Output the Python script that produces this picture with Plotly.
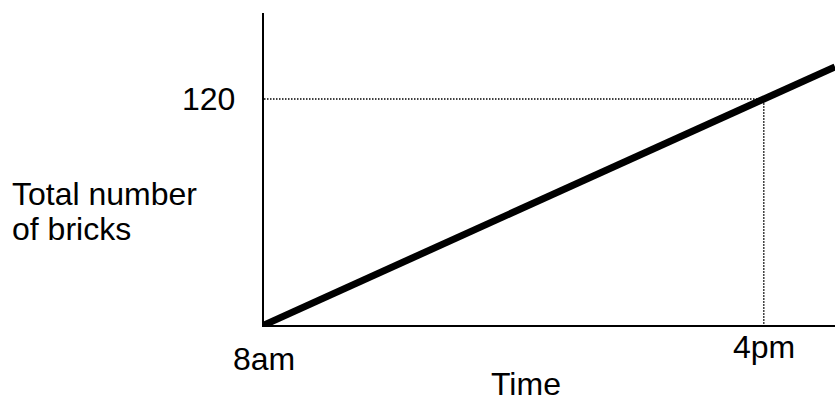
import plotly.graph_objects as go

# Data
hours = [8, 16, 17.14]          # 8am, 4pm, right edge of chart
bricks = [0, 120, 137.1]        # total number of bricks (constant rate 15/hour)
ref_hour = 16
ref_bricks = 120
x_tick_labels = {8: "8am", 16: "4pm"}
y_tick_labels = {120: "120"}
y_title_lines = ["Total number", "of bricks"]
x_title = "Time"

FONT = "Liberation Sans, Arial, sans-serif"
FS = 32

fig = go.Figure()

# reference dotted guide lines
fig.add_trace(go.Scatter(
    x=[8, ref_hour, ref_hour], y=[ref_bricks, ref_bricks, 0],
    mode="lines", line=dict(color="black", width=1.5, dash="1.5px,1.5px"),
    hoverinfo="skip", showlegend=False))

# main line
fig.add_trace(go.Scatter(
    x=hours, y=bricks, mode="lines",
    line=dict(color="black", width=7), showlegend=False))

f = dict(size=FS, family=FONT, color="black")
annotations = [
    dict(x=8, y=ref_bricks, xref="x", yref="y", text=y_tick_labels[120],
         xanchor="right", yanchor="middle", xshift=-27, showarrow=False, font=f),
    dict(x=8, y=0, xref="x", yref="y", text=x_tick_labels[8],
         xanchor="center", yanchor="top", yshift=-14, showarrow=False, font=f),
    dict(x=16, y=0, xref="x", yref="y", text=x_tick_labels[16],
         xanchor="center", yanchor="top", yshift=-2, showarrow=False, font=f),
    dict(x=12.2, y=0, xref="x", yref="y", text=x_title,
         xanchor="center", yanchor="top", yshift=-39, showarrow=False, font=f),
    dict(x=-0.445, y=0.42, xref="paper", yref="paper", text=y_title_lines[0],
         xanchor="left", yanchor="middle", showarrow=False, font=f),
    dict(x=-0.445, y=0.308, xref="paper", yref="paper", text=y_title_lines[1],
         xanchor="left", yanchor="middle", showarrow=False, font=f),
]

fig.update_layout(
    width=835, height=398,
    margin=dict(l=264, r=0, t=13, b=73),
    paper_bgcolor="white", plot_bgcolor="white",
    annotations=annotations,
    xaxis=dict(range=[8, 17.14], showgrid=False, zeroline=False, showticklabels=False,
               ticks="", showline=True, linecolor="black", linewidth=2, fixedrange=True),
    yaxis=dict(range=[0, 165.7], showgrid=False, zeroline=False, showticklabels=False,
               ticks="", showline=True, linecolor="black", linewidth=2, fixedrange=True),
    font=dict(family=FONT),
)

fig.write_html("out.html", config={"displayModeBar": False},
               post_script="document.body.style.margin='0';")
